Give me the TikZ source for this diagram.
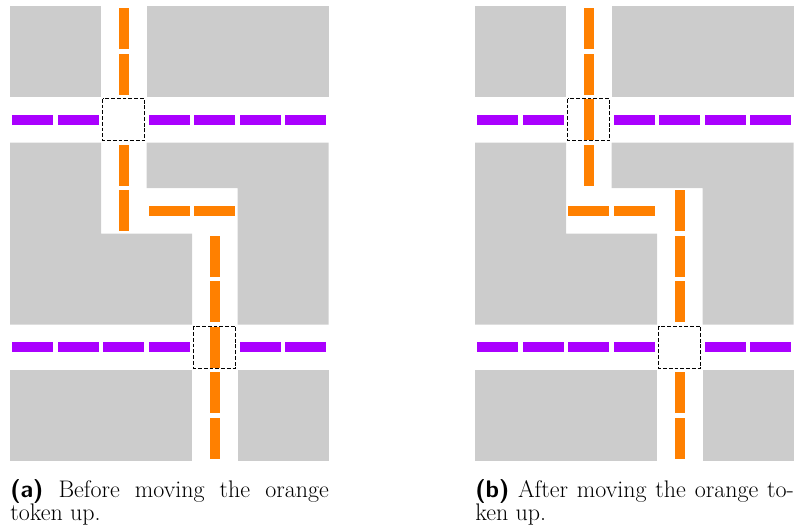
\documentclass[tikz,border=0pt]{standalone}
\usepackage{tikz}
\definecolor{blockgray}{rgb}{0.800000, 0.800000, 0.800000}
\definecolor{tokorange}{rgb}{1.000000, 0.500000, 0.000000}
\definecolor{tokpurple}{rgb}{0.667000, 0.000000, 1.000000}
\newlength{\du}
\setlength{\du}{1cm}
\tikzset{
  block/.style={fill=blockgray},
  otok/.style={fill=tokorange},
  ptok/.style={fill=tokpurple},
  crossing/.style={draw=black, line width=0.6pt, dash pattern=on 2.4pt off 1.2pt},
  subcap/.style={anchor=north west, inner sep=0pt, text width=7\du, align=justify,
    font=\fontsize{15}{14.4}\selectfont}
}

\begin{document}
\begin{tikzpicture}[x=1\du, y=-1\du]
\useasboundingbox (0,0) rectangle (17.495,11.582);
% panel a
\begin{scope}[shift={(0.22,0.132)}]
\fill[block] (0,0)--(2,0)--(2,2)--(0,2)--cycle;
\fill[block] (3,0)--(7,0)--(7,2)--(3,2)--cycle;
\fill[block] (0,3)--(2,3)--(2,5)--(4,5)--(4,7)--(0,7)--cycle;
\fill[block] (3,3)--(7,3)--(7,7)--(5,7)--(5,4)--(3,4)--cycle;
\fill[block] (0,8)--(4,8)--(4,10)--(0,10)--cycle;
\fill[block] (5,8)--(7,8)--(7,10)--(5,10)--cycle;
\fill[ptok] (0.05,2.39) rectangle (0.95,2.61);
\fill[ptok] (1.05,2.39) rectangle (1.95,2.61);
\fill[ptok] (3.05,2.39) rectangle (3.95,2.61);
\fill[ptok] (4.05,2.39) rectangle (4.95,2.61);
\fill[ptok] (5.05,2.39) rectangle (5.95,2.61);
\fill[ptok] (6.05,2.39) rectangle (6.95,2.61);
\fill[ptok] (0.05,7.39) rectangle (0.95,7.61);
\fill[ptok] (1.05,7.39) rectangle (1.95,7.61);
\fill[ptok] (2.05,7.39) rectangle (2.95,7.61);
\fill[ptok] (3.05,7.39) rectangle (3.95,7.61);
\fill[ptok] (5.05,7.39) rectangle (5.95,7.61);
\fill[ptok] (6.05,7.39) rectangle (6.95,7.61);
\fill[otok] (2.39,0.05) rectangle (2.61,0.95);
\fill[otok] (2.39,1.05) rectangle (2.61,1.95);
\fill[otok] (2.39,3.05) rectangle (2.61,3.95);
\fill[otok] (2.39,4.05) rectangle (2.61,4.95);
\fill[otok] (3.05,4.39) rectangle (3.95,4.61);
\fill[otok] (4.05,4.39) rectangle (4.95,4.61);
\fill[otok] (4.39,5.05) rectangle (4.61,5.95);
\fill[otok] (4.39,6.05) rectangle (4.61,6.95);
\fill[otok] (4.39,7.05) rectangle (4.61,7.95);
\fill[otok] (4.39,8.05) rectangle (4.61,8.95);
\fill[otok] (4.39,9.05) rectangle (4.61,9.95);
\draw[crossing] (2.04,2.04) rectangle (2.96,2.96);
\draw[crossing] (4.04,7.04) rectangle (4.96,7.96);
\node[subcap] (capa) at (0,10.40) {\textsf{\bfseries (a)} Before moving the orange\linebreak token up.};
\end{scope}
% panel b
\begin{scope}[shift={(10.44,0.132)}]
\fill[block] (0,0)--(2,0)--(2,2)--(0,2)--cycle;
\fill[block] (3,0)--(7,0)--(7,2)--(3,2)--cycle;
\fill[block] (0,3)--(2,3)--(2,5)--(4,5)--(4,7)--(0,7)--cycle;
\fill[block] (3,3)--(7,3)--(7,7)--(5,7)--(5,4)--(3,4)--cycle;
\fill[block] (0,8)--(4,8)--(4,10)--(0,10)--cycle;
\fill[block] (5,8)--(7,8)--(7,10)--(5,10)--cycle;
\fill[ptok] (0.05,2.39) rectangle (0.95,2.61);
\fill[ptok] (1.05,2.39) rectangle (1.95,2.61);
\fill[ptok] (3.05,2.39) rectangle (3.95,2.61);
\fill[ptok] (4.05,2.39) rectangle (4.95,2.61);
\fill[ptok] (5.05,2.39) rectangle (5.95,2.61);
\fill[ptok] (6.05,2.39) rectangle (6.95,2.61);
\fill[ptok] (0.05,7.39) rectangle (0.95,7.61);
\fill[ptok] (1.05,7.39) rectangle (1.95,7.61);
\fill[ptok] (2.05,7.39) rectangle (2.95,7.61);
\fill[ptok] (3.05,7.39) rectangle (3.95,7.61);
\fill[ptok] (5.05,7.39) rectangle (5.95,7.61);
\fill[ptok] (6.05,7.39) rectangle (6.95,7.61);
\fill[otok] (2.39,0.05) rectangle (2.61,0.95);
\fill[otok] (2.39,1.05) rectangle (2.61,1.95);
\fill[otok] (2.39,2.05) rectangle (2.61,2.95);
\fill[otok] (2.39,3.05) rectangle (2.61,3.95);
\fill[otok] (2.05,4.39) rectangle (2.95,4.61);
\fill[otok] (3.05,4.39) rectangle (3.95,4.61);
\fill[otok] (4.39,4.05) rectangle (4.61,4.95);
\fill[otok] (4.39,5.05) rectangle (4.61,5.95);
\fill[otok] (4.39,6.05) rectangle (4.61,6.95);
\fill[otok] (4.39,8.05) rectangle (4.61,8.95);
\fill[otok] (4.39,9.05) rectangle (4.61,9.95);
\draw[crossing] (2.04,2.04) rectangle (2.96,2.96);
\draw[crossing] (4.04,7.04) rectangle (4.96,7.96);
\node[subcap] (capb) at (0,10.40) {\textsf{\bfseries (b)} After moving the orange to-\linebreak ken up.};
\end{scope}
\end{tikzpicture}
\end{document}
